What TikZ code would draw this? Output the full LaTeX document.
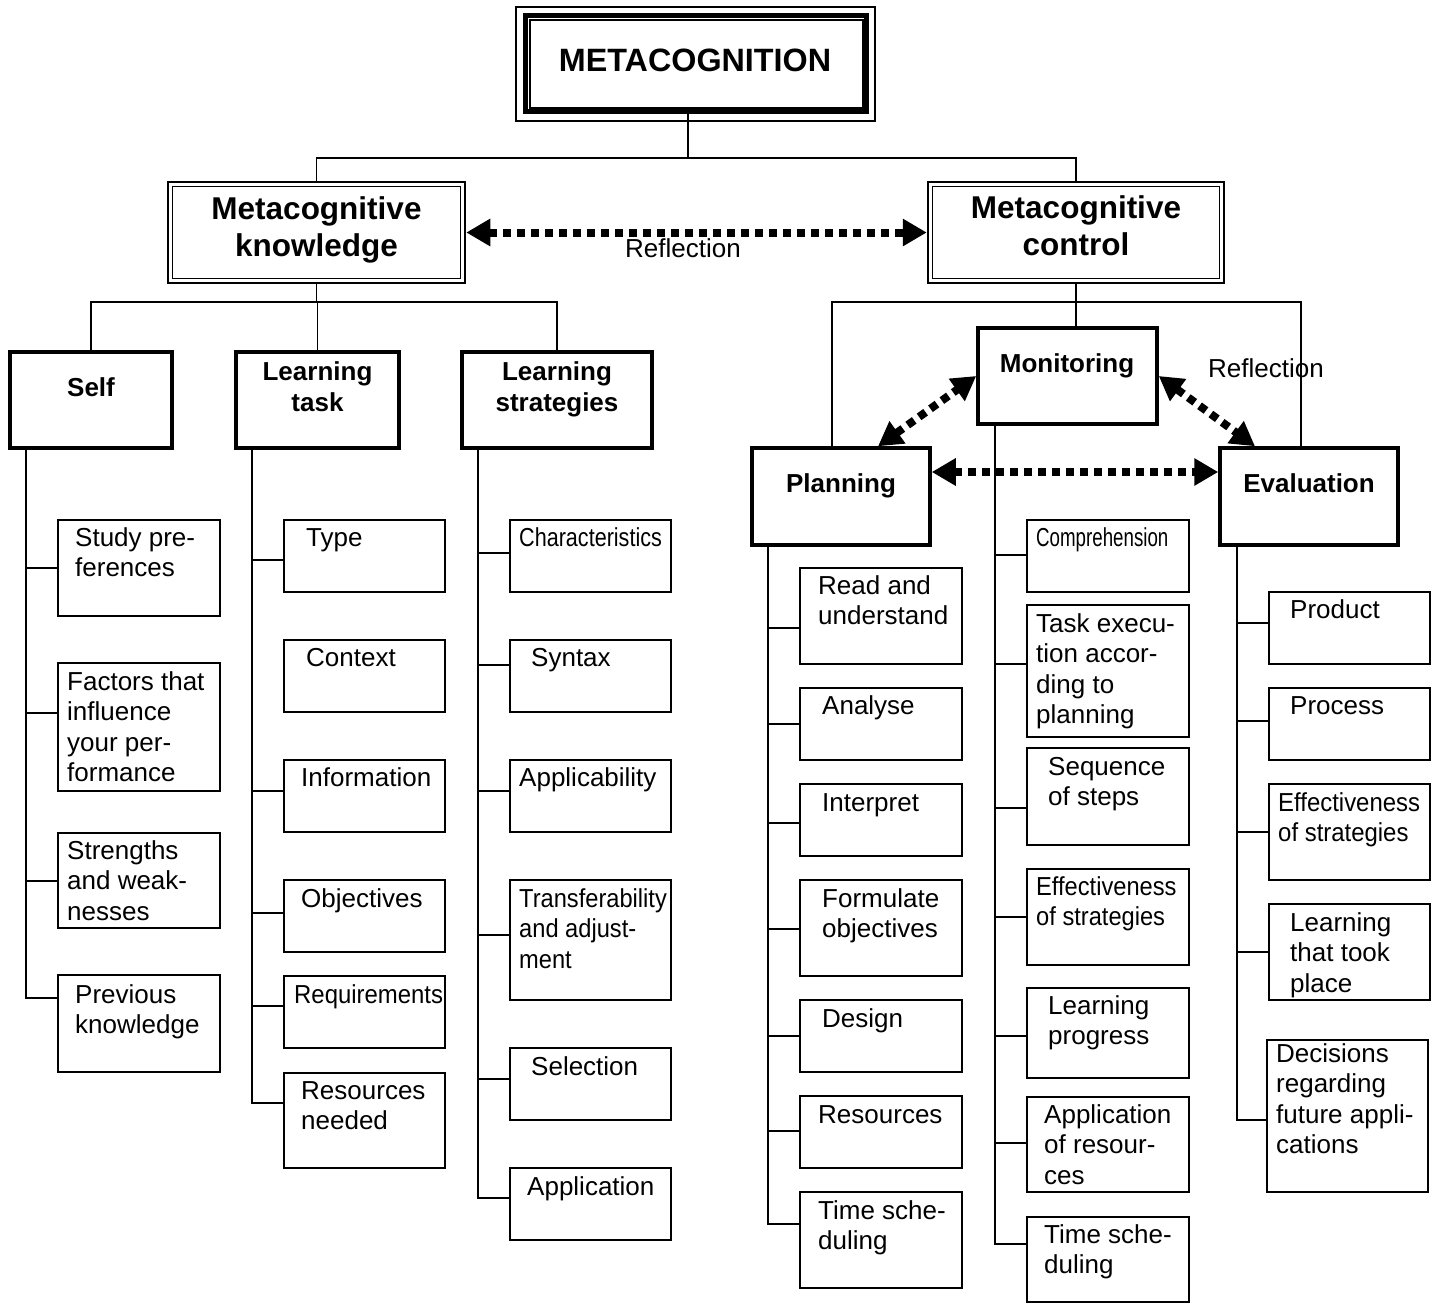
\documentclass[tikz,border=0pt]{standalone}
\usepackage{fontspec}
\setmainfont{Liberation Sans}
\usepackage{graphicx}
\usetikzlibrary{arrows.meta}

\newcommand\cnd[2]{\scalebox{#1}[1]{#2}}
% #1 name, #2 x1, #3 y1, #4 x2, #5 y2, #6 text x, #7 first line centre y, #8 text
\newcommand\leaf[8]{%
  \node[leafbox, minimum width={#4-#2}, minimum height={#5-#3}] (#1) at ({(#2+#4)/2},{(#3+#5)/2}) {};
  \node[leaftext] (#1-t) at (#6,{#7+9.3}) {\parbox[t]{220pt}{#8}};
}
\newcommand\branch[2]{\draw[conn] (#1.west |- 0,#2) -- ++(-32,0);}

\begin{document}
\begin{tikzpicture}[x=1pt,y=-1pt,
  leafbox/.style={draw, line width=1.8pt, inner sep=0pt},
  leaftext/.style={anchor=base west, inner sep=0pt, font=\fontsize{26}{30.5}\selectfont},
  catbox/.style={draw, line width=3.5pt, inner sep=0pt},
  cattext/.style={inner sep=0pt, align=center, font=\fontsize{26}{31}\selectfont\bfseries},
  dblbox/.style={draw, line width=2.5pt, inner sep=0pt},
  bigtext/.style={inner sep=0pt, align=center, font=\fontsize{31.5}{37}\selectfont\bfseries},
  mainbox/.style={draw, line width=5pt, inner sep=0pt},
  conn/.style={line width=1.6pt},
  spine/.style={line width=1.8pt},
  refltext/.style={inner sep=0pt, font=\fontsize{26}{31}\selectfont},
  refl/.style={line width=8pt, dash pattern=on 8pt off 6pt,
     {Triangle[length=24pt,width=26pt]}-{Triangle[length=24pt,width=26pt]}}
]
\useasboundingbox (0,0) rectangle (1437,1304);

% ---- top ----
\node[mainbox, minimum width=341, minimum height=96] (meta) at (695.5,63) {};
\draw[line width=2pt] ([shift={(-7,-6)}]meta.north west) rectangle ([shift={(6,7)}]meta.south east);
\draw[line width=2pt] ([shift={(7,7)}]meta.north west) rectangle ([shift={(-6,-6)}]meta.south east);
\node[bigtext, font=\fontsize{32.3}{37}\selectfont\bfseries] (meta-t) at (695,60) {METACOGNITION};

\node[dblbox, minimum width=297, minimum height=101] (mk) at (316.5,232.5) {};
\draw[line width=1.3pt] ([shift={(6,6)}]mk.north west) rectangle ([shift={(-6,-6)}]mk.south east);
\node[bigtext] (mk-t) at (316.5,229.5) {Metacognitive\\knowledge};

\node[dblbox, minimum width=296, minimum height=101] (mc) at (1076,232.5) {};
\draw[line width=1.3pt] ([shift={(6,6)}]mc.north west) rectangle ([shift={(-6,-6)}]mc.south east);
\node[bigtext] (mc-t) at (1076,225.5) {Metacognitive\\control};

\coordinate (junA) at (688,158);
\draw[conn] (meta.south -| junA) -- (junA);
\draw[conn] (mk.north) |- (junA) -| (mc.north);

\draw[refl] (mk.east) -- (mc.west);
\node[refltext] (refl1) at (683,248) {Reflection};

% ---- category boxes ----
\node[catbox, minimum width=162, minimum height=96] (self) at (91,400) {};
\node[cattext] (self-t) at (91,387) {Self};
\node[catbox, minimum width=163, minimum height=96] (lt) at (317.5,400) {};
\node[cattext] (lt-t) at (317.5,386.5) {Learning\\task};
\node[catbox, minimum width=190, minimum height=96] (lstr) at (557,400) {};
\node[cattext] (lstr-t) at (557,389.5) {Learning\\strategies};

\node[catbox, minimum width=179, minimum height=96] (mon) at (1067.5,376) {};
\node[cattext] (mon-t) at (1067,366) {Monitoring};
\node[catbox, minimum width=178, minimum height=97] (plan) at (841,496.5) {};
\node[cattext] (plan-t) at (841,486) {Planning};
\node[catbox, minimum width=178, minimum height=97] (eval) at (1309,496.5) {};
\node[cattext] (eval-t) at (1309,483) {Evaluation};

\coordinate (junB) at (316.5,302);
\draw[conn] (mk.south) -- (junB);
\draw[conn] (self.north) |- (junB) -| (lstr.north);
\draw[conn] (lt.north) -- (lt.north |- junB);

\coordinate (junC) at (1076,302);
\draw[conn] (mc.south) -- (mon.north -| mc.south);
\draw[conn] (plan.north -| 832,0) |- (junC) -| (eval.north -| 1301,0);

\node[refltext] (refl2) at (1266,368) {Reflection};

% ---- Self ----
\leaf{sp}{58}{520}{220}{616}{75}{537}{Study pre-\\ferences}
\leaf{fa}{58}{663}{220}{791}{67}{681}{Factors that\\influence\\your per-\\formance}
\leaf{sw}{58}{833}{220}{928}{67}{850}{Strengths\\and weak-\\nesses}
\leaf{pk}{58}{975}{220}{1072}{75}{994}{Previous\\knowledge}
\draw[spine] (self.south -| 26,0) |- (pk.west |- 0,998);
\branch{sp}{568}\branch{fa}{713}\branch{sw}{881}

% ---- Learning task ----
\leaf{ty}{284}{520}{445}{592}{306}{537}{Type}
\leaf{cx}{284}{640}{445}{712}{306}{657}{Context}
\leaf{inf}{284}{760}{445}{832}{301}{777}{Information}
\leaf{ob}{284}{880}{445}{952}{301}{898}{Objectives}
\leaf{rq}{284}{976}{445}{1048}{294}{994}{\cnd{0.92}{Requirements}}
\leaf{rn}{284}{1073}{445}{1168}{301}{1090}{Resources\\needed}
\draw[spine] (lt.south -| 252,0) |- (rn.west |- 0,1103);
\branch{ty}{560}\branch{inf}{791}\branch{ob}{913}\branch{rq}{1006}

% ---- Learning strategies ----
\leaf{ch}{510}{520}{671}{592}{519}{537}{\cnd{0.83}{Characteristics}}
\leaf{sy}{510}{640}{671}{712}{531}{657}{Syntax}
\leaf{apl}{510}{760}{671}{832}{519}{777}{Applicability}
\leaf{tr}{510}{880}{671}{1000}{519}{898}{\cnd{0.91}{Transferability}\\\cnd{0.91}{and adjust-}\\\cnd{0.91}{ment}}
\leaf{se}{510}{1048}{671}{1120}{531}{1066}{Selection}
\leaf{al}{510}{1168}{671}{1240}{527}{1186}{Application}
\draw[spine] (lstr.south -| 478,0) |- (al.west |- 0,1198);
\branch{ch}{553}\branch{sy}{665}\branch{apl}{791}\branch{tr}{935}\branch{se}{1079}

% ---- Planning ----
\leaf{ru}{800}{568}{962}{664}{818}{585}{Read and\\understand}
\leaf{an}{800}{688}{962}{760}{822}{705}{Analyse}
\leaf{ip}{800}{784}{962}{856}{822}{802}{Interpret}
\leaf{fo}{800}{880}{962}{976}{822}{898}{Formulate\\objectives}
\leaf{de}{800}{1000}{962}{1072}{822}{1018}{Design}
\leaf{re}{800}{1096}{962}{1168}{818}{1114}{Resources}
\leaf{ts}{800}{1192}{962}{1288}{818}{1210}{Time sche-\\duling}
\draw[spine] (plan.south -| 768,0) |- (ts.west |- 0,1224);
\branch{ru}{628}\branch{an}{724}\branch{ip}{823}\branch{fo}{929}\branch{de}{1036}\branch{re}{1131}

% ---- Monitoring ----
\leaf{co}{1027}{520}{1189}{592}{1036}{537}{\cnd{0.72}{Comprehension}}
\leaf{te}{1027}{605}{1189}{737}{1036}{623}{Task execu-\\tion accor-\\ding to\\planning}
\leaf{sq}{1027}{748}{1189}{845}{1048}{766}{Sequence\\of steps}
\leaf{ef}{1027}{869}{1189}{965}{1036}{886}{\cnd{0.91}{Effectiveness}\\\cnd{0.91}{of strategies}}
\leaf{lp}{1027}{988}{1189}{1078}{1048}{1005}{Learning\\progress}
\leaf{ar}{1027}{1097}{1189}{1192}{1044}{1114}{Application\\of resour-\\ces}
\leaf{mt}{1027}{1217}{1189}{1302}{1044}{1234}{Time sche-\\duling}
\draw[spine] (mon.south -| 995,0) |- (mt.west |- 0,1244);
\branch{co}{555}\branch{te}{664}\branch{sq}{808}\branch{ef}{917}\branch{lp}{1036}\branch{ar}{1143}

% ---- Evaluation ----
\leaf{pr}{1269}{592}{1430}{664}{1290}{609}{Product}
\leaf{ps}{1269}{688}{1430}{760}{1290}{705}{Process}
\leaf{ee}{1269}{784}{1430}{880}{1278}{802}{\cnd{0.92}{Effectiveness}\\\cnd{0.92}{of strategies}}
\leaf{lt2}{1269}{904}{1430}{1000}{1290}{922}{Learning\\that took\\place}
\leaf{dr}{1267}{1040}{1428}{1192}{1276}{1053}{Decisions\\regarding\\future appli-\\cations}
\draw[spine] (eval.south -| 1237,0) |- (dr.west |- 0,1120);
\branch{pr}{623}\branch{ps}{721}\branch{ee}{832}\branch{lt2}{952}

% ---- reflection arrows among control boxes ----
\draw[refl] ([xshift=37pt]plan.north) -- (mon.west);
\draw[refl] (mon.east) -- ([xshift=-54pt]eval.north);
\draw[refl] ([yshift=24.5pt]plan.east) -- ([yshift=24.5pt]eval.west);
\end{tikzpicture}
\end{document}
